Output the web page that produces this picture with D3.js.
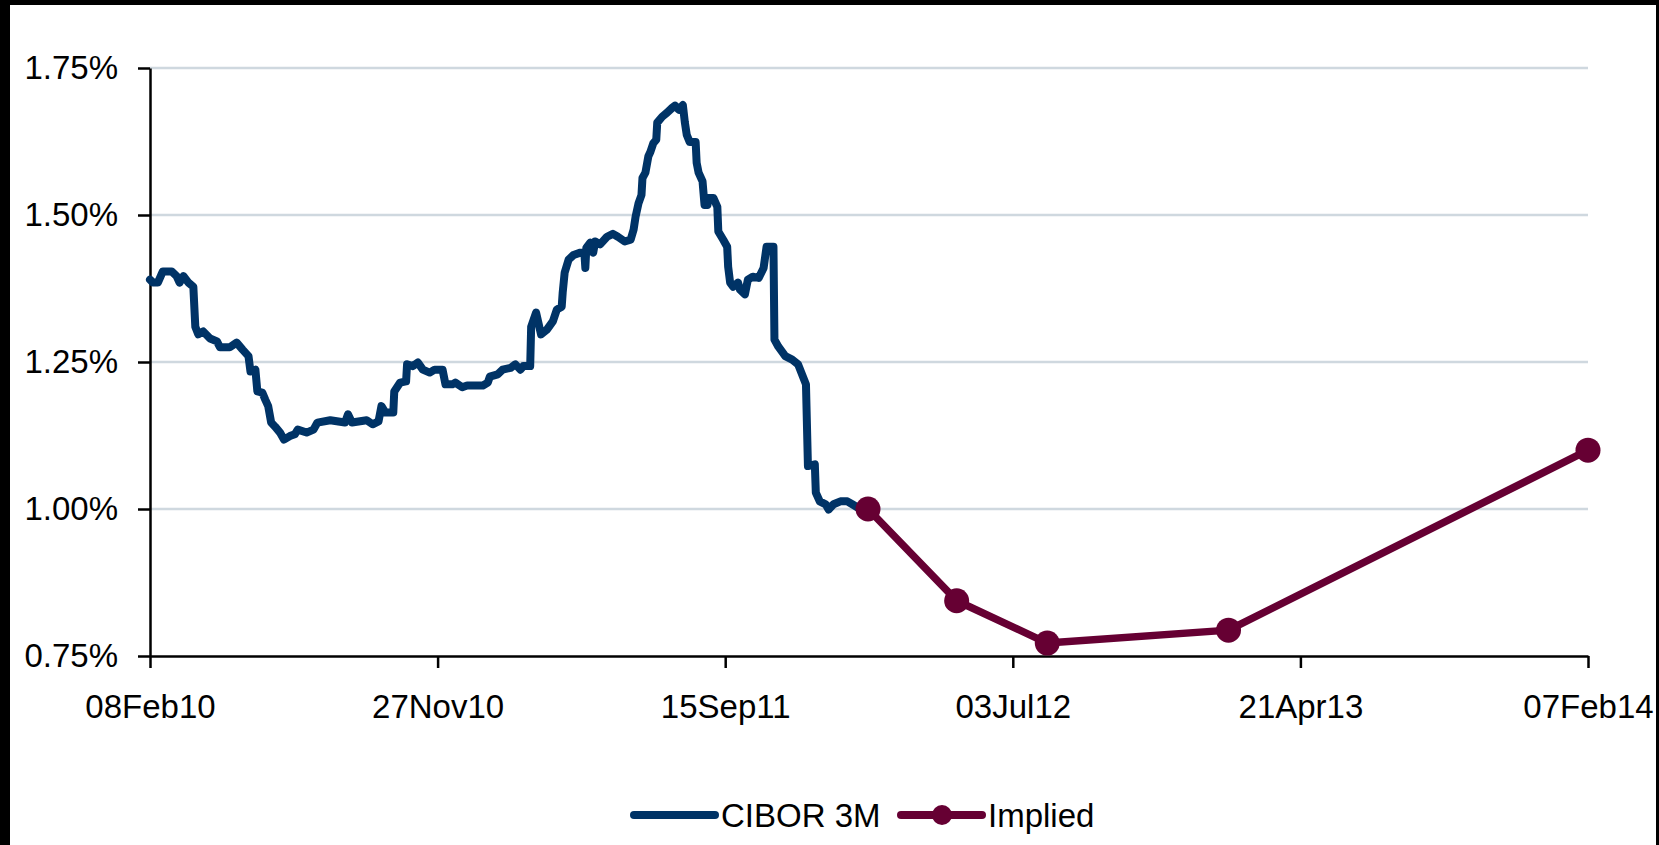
<!DOCTYPE html>
<html>
<head>
<meta charset="utf-8">
<script src="https://cdn.jsdelivr.net/npm/d3@7"></script>
<style>
	body { margin: 0; background: #000; }
	svg  { display: block; }
</style>
</head>
<body>
<div id="visualization"></div>
<script>
// ==================================================
// DATA
// ==================================================

// CIBOR 3M fixings (step changes only)
var ciborDates = [
	"2010-02-08", "2010-02-11", "2010-02-16", "2010-02-21", "2010-03-02", "2010-03-07",
	"2010-03-10", "2010-03-14", "2010-03-19", "2010-03-24", "2010-03-26", "2010-03-29",
	"2010-04-03", "2010-04-10", "2010-04-17", "2010-04-20", "2010-04-30", "2010-05-07",
	"2010-05-13", "2010-05-19", "2010-05-21", "2010-05-26", "2010-05-28", "2010-06-02",
	"2010-06-05", "2010-06-08", "2010-06-11", "2010-06-15", "2010-06-20", "2010-06-24",
	"2010-06-30", "2010-07-05", "2010-07-08", "2010-07-17", "2010-07-24", "2010-07-28",
	"2010-08-10", "2010-08-25", "2010-08-28", "2010-09-01", "2010-09-16", "2010-09-22",
	"2010-09-28", "2010-10-01", "2010-10-05", "2010-10-13", "2010-10-14", "2010-10-20",
	"2010-10-26", "2010-10-27", "2010-11-02", "2010-11-07", "2010-11-12", "2010-11-19",
	"2010-11-24", "2010-12-02", "2010-12-05", "2010-12-12", "2010-12-15", "2010-12-22",
	"2010-12-27", "2011-01-12", "2011-01-17", "2011-01-19", "2011-01-27", "2011-02-01",
	"2011-02-09", "2011-02-14", "2011-02-19", "2011-02-22", "2011-03-01", "2011-03-02",
	"2011-03-07", "2011-03-12", "2011-03-18", "2011-03-24", "2011-03-28", "2011-04-02",
	"2011-04-03", "2011-04-05", "2011-04-09", "2011-04-14", "2011-04-21", "2011-04-25",
	"2011-04-26", "2011-04-27", "2011-05-01", "2011-05-04", "2011-05-06", "2011-05-11",
	"2011-05-18", "2011-05-24", "2011-05-29", "2011-06-05", "2011-06-11", "2011-06-14",
	"2011-06-16", "2011-06-19", "2011-06-22", "2011-06-23", "2011-06-26", "2011-06-29",
	"2011-07-01", "2011-07-04", "2011-07-07", "2011-07-08", "2011-07-13", "2011-07-18",
	"2011-07-23", "2011-07-26", "2011-07-30", "2011-08-03", "2011-08-05", "2011-08-07",
	"2011-08-10", "2011-08-16", "2011-08-17", "2011-08-19", "2011-08-23", "2011-08-25",
	"2011-08-28", "2011-08-29", "2011-09-03", "2011-09-07", "2011-09-08", "2011-09-13",
	"2011-09-17", "2011-09-18", "2011-09-20", "2011-09-23", "2011-09-28", "2011-09-30",
	"2011-10-05", "2011-10-08", "2011-10-13", "2011-10-19", "2011-10-24", "2011-10-27",
	"2011-11-03", "2011-11-04", "2011-11-08", "2011-11-15", "2011-11-22", "2011-11-28",
	"2011-12-02", "2011-12-06", "2011-12-08", "2011-12-15", "2011-12-16", "2011-12-20",
	"2011-12-26", "2011-12-29", "2012-01-03", "2012-01-10", "2012-01-17", "2012-01-22",
	"2012-01-27", "2012-02-02", "2012-02-07"
];

var ciborValues = [
	1.390, 1.385, 1.385, 1.404, 1.404, 1.396,
	1.385, 1.396, 1.385, 1.378, 1.310, 1.297,
	1.302, 1.290, 1.285, 1.275, 1.275, 1.283,
	1.271, 1.260, 1.234, 1.237, 1.200, 1.198,
	1.186, 1.175, 1.147, 1.140, 1.130, 1.118,
	1.124, 1.127, 1.135, 1.130, 1.135, 1.147,
	1.151, 1.147, 1.161, 1.147, 1.151, 1.144,
	1.149, 1.175, 1.164, 1.164, 1.200, 1.215,
	1.217, 1.246, 1.243, 1.249, 1.237, 1.232,
	1.237, 1.237, 1.212, 1.212, 1.215, 1.207,
	1.210, 1.210, 1.215, 1.225, 1.229, 1.237,
	1.240, 1.246, 1.237, 1.243, 1.243, 1.310,
	1.334, 1.297, 1.305, 1.319, 1.339, 1.344,
	1.368, 1.402, 1.424, 1.432, 1.436, 1.436,
	1.410, 1.444, 1.453, 1.436, 1.455, 1.450,
	1.463, 1.468, 1.463, 1.455, 1.458, 1.475,
	1.497, 1.520, 1.534, 1.563, 1.572, 1.600,
	1.607, 1.622, 1.628, 1.657, 1.667, 1.674,
	1.682, 1.686, 1.679, 1.687, 1.658, 1.636,
	1.624, 1.624, 1.589, 1.572, 1.557, 1.517,
	1.517, 1.529, 1.529, 1.514, 1.472, 1.458,
	1.446, 1.412, 1.385, 1.378, 1.385, 1.373,
	1.365, 1.390, 1.395, 1.393, 1.410, 1.446,
	1.446, 1.288, 1.276, 1.260, 1.254, 1.246,
	1.229, 1.212, 1.073, 1.076, 1.028, 1.013,
	1.008, 0.999, 1.008, 1.013, 1.013, 1.008,
	1.003, 1.000, 1.000
];

// Implied forward path
var impliedDates  = ["2012-02-07", "2012-05-07", "2012-08-07", "2013-02-07", "2014-02-07"];
var impliedValues = [1.000, 0.844, 0.772, 0.794, 1.100];

// Axis ticks
var xTickDates  = ["2010-02-08", "2010-11-27", "2011-09-15", "2012-07-03", "2013-04-21", "2014-02-07"];
var yTickValues = [0.75, 1.00, 1.25, 1.50, 1.75];

// Legend
var seriesNames  = ["CIBOR 3M", "Implied"];
var seriesColors = ["#003366", "#660033"];


// ==================================================
// GLOBALS
// ==================================================

var parseDate = d3.timeParse("%Y-%m-%d");

var totalWidth  = 1659;
var totalHeight = 845;

var margin = { top: 68, left: 150, right: 71, bottom: 189 };
var width  = totalWidth  - margin.left - margin.right;
var height = totalHeight - margin.top  - margin.bottom;

var fontFamily = "'Liberation Sans', Arial, sans-serif";

var canvas = d3.select("#visualization")
	.append("svg")
		.attr("width",  totalWidth)
		.attr("height", totalHeight);

// Black frame round the chart area
canvas.append("rect")
	.attr("width",  totalWidth)
	.attr("height", totalHeight)
	.attr("fill", "#000");

canvas.append("rect")
	.attr("x", 10)
	.attr("y", 5)
	.attr("width",  1646)
	.attr("height", totalHeight)
	.attr("fill", "#fff");

var visual = canvas.append("g")
	.attr("transform", "translate(" + margin.left + ", " + margin.top + ")");


// Setup Scales
var x = d3.scaleTime()
	.range([0, width])
	.domain([parseDate("2010-02-08"), parseDate("2014-02-07")]);

var y = d3.scaleLinear()
	.range([height, 0])
	.domain([0.75, 1.75]);


// Gridlines
visual.selectAll(".grid")
	.data(yTickValues.slice(1))
	.enter()
		.append("line")
			.attr("class", "grid")
			.attr("x1", 0)
			.attr("x2", width)
			.attr("y1", function(d) { return y(d); })
			.attr("y2", function(d) { return y(d); })
			.attr("stroke", "#cfd8df")
			.attr("stroke-width", 2.5);


// Setup Axis
var xAxisCall = d3.axisBottom(x)
	.tickValues(xTickDates.map(parseDate))
	.tickFormat(d3.timeFormat("%d%b%y"))
	.tickSizeInner(12)
	.tickSizeOuter(0)
	.tickPadding(27);

var xAxis = visual.append("g")
	.attr("class", "x axis")
	.attr("transform", "translate(0," + height + ")")
	.call(xAxisCall);

var yAxisCall = d3.axisLeft(y)
	.tickValues(yTickValues)
	.tickFormat(function(d) { return d.toFixed(2) + "%"; })
	.tickSizeInner(12)
	.tickSizeOuter(0)
	.tickPadding(20);

var yAxis = visual.append("g")
	.attr("class", "y axis")
	.call(yAxisCall);

[xAxis, yAxis].forEach(function(axis) {
	axis.select(".domain")
		.attr("stroke", "#000")
		.attr("stroke-width", 2.5);
	axis.selectAll(".tick line")
		.attr("stroke", "#000")
		.attr("stroke-width", 2.5);
	axis.selectAll(".tick text")
		.attr("fill", "#000")
		.attr("font-family", fontFamily)
		.attr("font-size", "33px");
});


// Lines
var line = d3.line()
	.x(function(d) { return x(d.date); })
	.y(function(d) { return y(d.value); });

var cibor = ciborDates.map(function(d, i) {
	return { date: parseDate(d), value: ciborValues[i] };
});

var implied = impliedDates.map(function(d, i) {
	return { date: parseDate(d), value: impliedValues[i] };
});

visual.append("path")
	.datum(cibor)
	.attr("fill", "none")
	.attr("stroke", seriesColors[0])
	.attr("stroke-width", 8)
	.attr("stroke-linejoin", "round")
	.attr("stroke-linecap", "round")
	.attr("d", line);

visual.append("path")
	.datum(implied)
	.attr("fill", "none")
	.attr("stroke", seriesColors[1])
	.attr("stroke-width", 7.5)
	.attr("stroke-linejoin", "round")
	.attr("d", line);

visual.selectAll(".marker")
	.data(implied)
	.enter()
		.append("circle")
			.attr("class", "marker")
			.attr("cx", function(d) { return x(d.date); })
			.attr("cy", function(d) { return y(d.value); })
			.attr("r", 12.5)
			.attr("fill", seriesColors[1]);


// Legend
var legendX = [634, 901];
var legendY = 815;

var legend = canvas.selectAll(".legend")
	.data(seriesNames)
	.enter()
		.append("g")
			.attr("class", "legend")
			.attr("transform", function(d, i) {
				return "translate(" + legendX[i] + ", " + legendY + ")";
			});

legend.append("line")
	.attr("x1", 0)
	.attr("x2", 81)
	.attr("stroke", function(d, i) { return seriesColors[i]; })
	.attr("stroke-width", 8)
	.attr("stroke-linecap", "round");

legend.filter(function(d, i) { return i == 1; })
	.append("circle")
		.attr("cx", 41)
		.attr("r", 10)
		.attr("fill", seriesColors[1]);

legend.append("text")
	.attr("x", 87)
	.attr("y", 12)
	.attr("font-family", fontFamily)
	.attr("font-size", "33px")
	.attr("fill", "#000")
	.text(function(d) { return d; });
</script>
</body>
</html>
